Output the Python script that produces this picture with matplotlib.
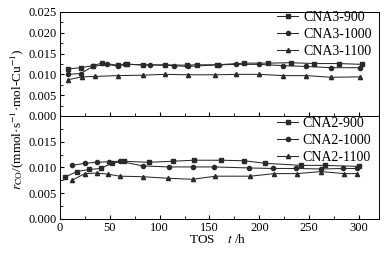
import matplotlib
matplotlib.use("Agg")
import matplotlib.pyplot as plt
from matplotlib.ticker import MultipleLocator

plt.rcParams['font.family'] = ['Liberation Serif', 'DejaVu Serif']
plt.rcParams['mathtext.fontset'] = 'stix'
plt.rcParams['font.size'] = 9

# top panel: CNA3 series
t3_900 = [8, 21, 33, 42, 58, 67, 83, 105, 127, 137, 158, 185, 209, 232, 255, 280, 303]
r3_900 = [0.0113, 0.0116, 0.0121, 0.0127, 0.0122, 0.0125, 0.0122, 0.0123, 0.0122,
          0.0123, 0.0123, 0.0127, 0.0127, 0.0128, 0.0126, 0.0126, 0.0124]
t3_1000 = [8, 21, 33, 47, 58, 65, 90, 114, 128, 160, 177, 200, 224, 247, 272, 301]
r3_1000 = [0.0100, 0.0102, 0.0119, 0.0124, 0.0120, 0.0124, 0.0123, 0.0121, 0.0119,
           0.0123, 0.0124, 0.0124, 0.0121, 0.0119, 0.0116, 0.0116]
t3_1100 = [8, 22, 35, 58, 83, 105, 128, 156, 177, 200, 224, 247, 272, 301]
r3_1100 = [0.0087, 0.0094, 0.0095, 0.0097, 0.0098, 0.0100, 0.0099, 0.0099, 0.0100,
           0.0100, 0.0097, 0.0097, 0.0093, 0.0094]

# bottom panel: CNA2 series
t2_900 = [5, 17, 29, 41, 52, 64, 89, 113, 134, 162, 185, 206, 242, 266, 300]
r2_900 = [0.0081, 0.0092, 0.0096, 0.0098, 0.0108, 0.0112, 0.0110, 0.0112, 0.0114,
          0.0114, 0.0113, 0.0108, 0.0104, 0.0104, 0.0102]
t2_1000 = [12, 25, 37, 49, 60, 83, 109, 133, 155, 190, 214, 237, 262, 284, 298]
r2_1000 = [0.0104, 0.0108, 0.0110, 0.0111, 0.0112, 0.0103, 0.0101, 0.0101, 0.0101,
           0.0099, 0.0098, 0.0098, 0.0097, 0.0098, 0.0098]
t2_1100 = [12, 25, 37, 48, 60, 83, 108, 133, 156, 191, 215, 238, 262, 285, 298]
r2_1100 = [0.0075, 0.0088, 0.0089, 0.0087, 0.0083, 0.0082, 0.0079, 0.0077, 0.0083,
           0.0083, 0.0088, 0.0088, 0.0092, 0.0088, 0.0088]

markers = ['s', 'o', '^']
col = '#2a2a2a'

fig = plt.figure(figsize=(3.84, 2.60), dpi=100)
ax1 = fig.add_axes([0.156, 0.554, 0.831, 0.400])
ax2 = fig.add_axes([0.156, 0.158, 0.831, 0.396])

top = [(t3_900, r3_900, 'CNA3-900'), (t3_1000, r3_1000, 'CNA3-1000'), (t3_1100, r3_1100, 'CNA3-1100')]
bot = [(t2_900, r2_900, 'CNA2-900'), (t2_1000, r2_1000, 'CNA2-1000'), (t2_1100, r2_1100, 'CNA2-1100')]

for ax, series, ymax, leg_y in [(ax1, top, 0.025, 1.04), (ax2, bot, 0.020, 1.02)]:
    for (t, r, lab), m in zip(series, markers):
        ax.plot(t, r, marker=m, ms=3.0, lw=0.75, color=col, label=lab)
    ax.set_xlim(0, 320)
    ax.set_ylim(0, ymax)
    ax.xaxis.set_major_locator(MultipleLocator(50))
    ax.xaxis.set_minor_locator(MultipleLocator(25))
    ax.yaxis.set_major_locator(MultipleLocator(0.005))
    ax.yaxis.set_minor_locator(MultipleLocator(0.0025))
    ax.yaxis.set_major_formatter(matplotlib.ticker.FormatStrFormatter('%.3f'))
    ax.tick_params(which='both', direction='in', top=False, right=False, labelsize=9, pad=2)
    ax.tick_params(which='major', length=3)
    ax.tick_params(which='minor', length=2)
    for s in ax.spines.values():
        s.set_linewidth(0.7)
    ax.legend(loc='upper right', bbox_to_anchor=(0.985, leg_y), frameon=False, fontsize=10,
              handlelength=1.5, handletextpad=0.35, labelspacing=0.3,
              borderpad=0.2, borderaxespad=0.0)

ax1.tick_params(labelbottom=False)
ax2.set_yticks([0.000, 0.005, 0.010, 0.015])

fig.text(0.045, 0.54, r'$r_{\mathrm{CO}}$/(mmol·s$^{-1}$·mol-Cu$^{-1}$)',
         rotation=90, ha='center', va='center', fontsize=9.5)
fig.text(0.568, 0.077, r'TOS    $t$ /h', ha='center', va='center', fontsize=9.5)

fig.savefig('out.png', dpi=100)
